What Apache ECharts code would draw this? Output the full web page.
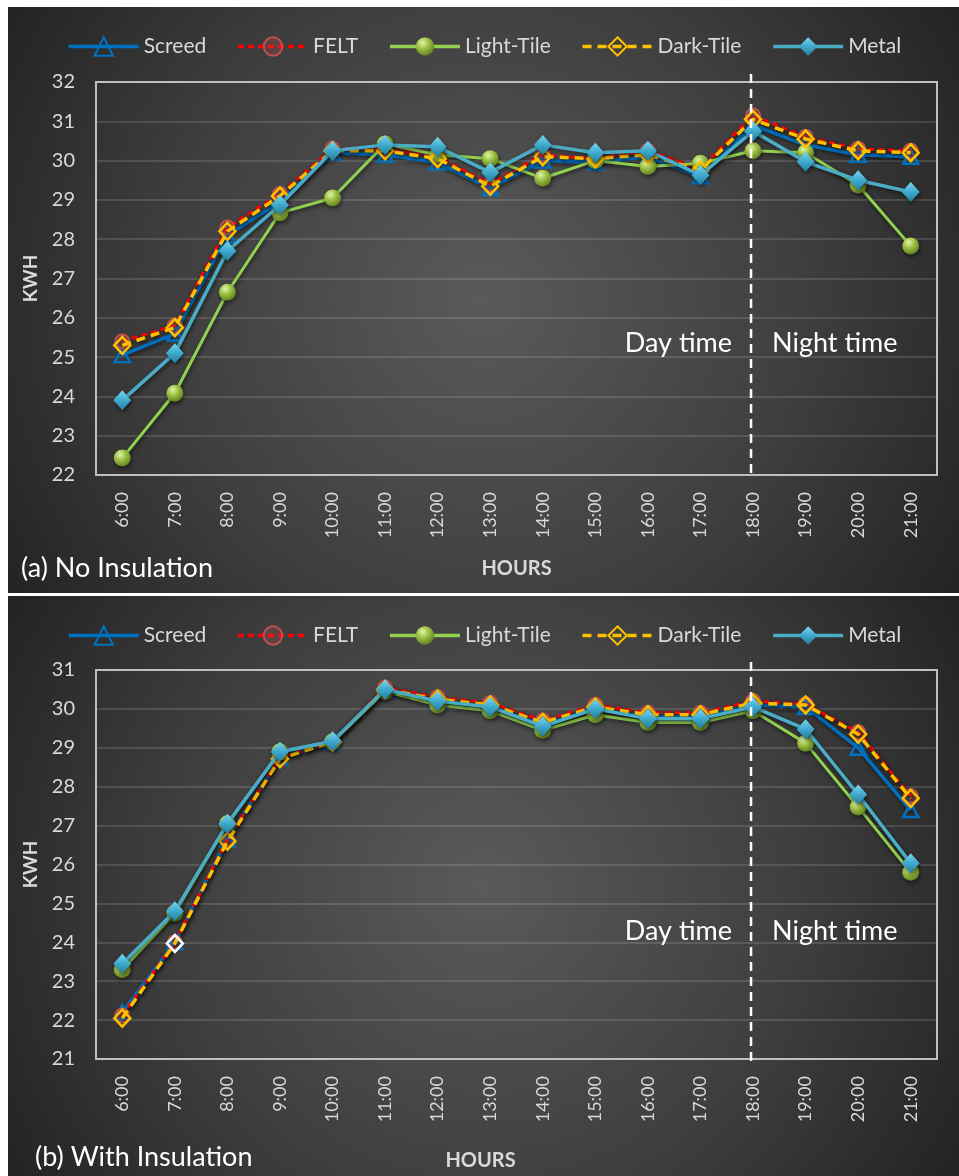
<!DOCTYPE html>
<html><head><meta charset="utf-8">
<script src="https://cdn.jsdelivr.net/npm/echarts@6/dist/echarts.min.js"></script>
<style>html,body{margin:0;padding:0;background:#fff;} #c{width:959px;height:1176px;}</style>
</head><body><div id="c"></div>
<script>
const hours = ['6:00','7:00','8:00','9:00','10:00','11:00','12:00','13:00','14:00','15:00','16:00','17:00','18:00','19:00','20:00','21:00'];
const seriesNames = ['Screed','FELT','Light-Tile','Dark-Tile','Metal'];

// (a) No Insulation
const screedA = [25.05, 25.6, 28.1, 28.95, 30.2, 30.15, 29.95, 29.3, 30.0, 29.95, 30.1, 29.6, 30.9, 30.4, 30.15, 30.1];
const feltA   = [25.4, 25.8, 28.3, 29.15, 30.3, 30.3, 30.1, 29.4, 30.15, 30.05, 30.25, 29.8, 31.15, 30.6, 30.3, 30.25];
const lightA  = [22.43, 24.08, 26.65, 28.67, 29.05, 30.42, 30.15, 30.05, 29.55, 30.0, 29.85, 29.93, 30.25, 30.2, 29.38, 27.83];
const darkA   = [25.3, 25.75, 28.2, 29.1, 30.25, 30.25, 30.05, 29.35, 30.1, 30.05, 30.15, 29.75, 31.05, 30.55, 30.25, 30.2];
const metalA  = [23.9, 25.1, 27.7, 28.87, 30.25, 30.4, 30.35, 29.7, 30.4, 30.2, 30.25, 29.63, 30.75, 29.97, 29.5, 29.2];

// (b) With Insulation
const screedB = [22.2, 24.0, 26.65, 28.75, 29.15, 30.5, 30.2, 30.05, 29.6, 30.0, 29.8, 29.8, 30.1, 30.05, 29.0, 27.4];
const feltB   = [22.12, 24.0, 26.65, 28.75, 29.15, 30.55, 30.3, 30.15, 29.7, 30.1, 29.9, 29.9, 30.2, 30.12, 29.4, 27.76];
const lightB  = [23.3, 24.75, 27.05, 28.9, 29.15, 30.45, 30.1, 29.95, 29.45, 29.85, 29.65, 29.65, 29.95, 29.12, 27.48, 25.8];
const darkB   = [22.05, 23.97, 26.6, 28.72, 29.15, 30.5, 30.25, 30.1, 29.65, 30.05, 29.85, 29.85, 30.15, 30.1, 29.35, 27.7];
const metalB  = [23.45, 24.8, 27.05, 28.9, 29.17, 30.5, 30.2, 30.05, 29.55, 30.0, 29.75, 29.75, 30.05, 29.48, 27.8, 26.03];

const yRangeA = [22, 32];
const yRangeB = [21, 31];
const panelTitles = ['(a) No Insulation', '(b) With Insulation'];

const FONT = 'Lato';
const TXT = '#d9d9d9';
const chart = echarts.init(document.getElementById('c'));

const shadow = {shadowColor:'rgba(0,0,0,0.55)', shadowBlur:4, shadowOffsetY:2, shadowOffsetX:1};

function styles(name){
  switch(name){
    case 'Screed': return {symbol:'triangle', symbolSize:[15,14], color:'#0070C0',
      lineStyle:Object.assign({color:'#0070C0', width:3.5}, shadow),
      itemStyle:{color:'rgba(0,0,0,0)', borderColor:'#0070C0', borderWidth:2.5}};
    case 'FELT': return {symbol:'circle', symbolSize:14, color:'#FF0000',
      lineStyle:Object.assign({color:'#FF0000', width:3, type:[6,4]}, shadow),
      itemStyle:{color:'rgba(192,80,77,0.25)', borderColor:'#C0504D', borderWidth:2}};
    case 'Light-Tile': return {symbol:'circle', symbolSize:17, color:'#92D050',
      lineStyle:Object.assign({color:'#92D050', width:3}, shadow),
      itemStyle:Object.assign({color:new echarts.graphic.RadialGradient(0.38,0.3,0.75,[{offset:0,color:'#e0f4a8'},{offset:0.45,color:'#9cc044'},{offset:1,color:'#5a7a1c'}])}, shadow)};
    case 'Dark-Tile': return {symbol:'diamond', symbolSize:[16,17], color:'#FFC000',
      lineStyle:Object.assign({color:'#FFC000', width:3.5, type:[9,6]}, shadow),
      itemStyle:{color:'rgba(0,0,0,0)', borderColor:'#FFC000', borderWidth:2.5}};
    case 'Metal': return {symbol:'diamond', symbolSize:[18,20], color:'#4BACC6',
      lineStyle:Object.assign({color:'#4BACC6', width:3.5}, shadow),
      itemStyle:Object.assign({color:new echarts.graphic.LinearGradient(0,0,0,1,[{offset:0,color:'#7ad6f0'},{offset:0.5,color:'#3fa9cc'},{offset:1,color:'#217f9f'}])}, shadow)};
  }
}

const dataA = [screedA, feltA, lightA, darkA, metalA];
const dataB = [screedB, feltB, lightB, darkB, metalB];
const series = [];
[dataA, dataB].forEach((set, g) => {
  set.forEach((arr, i) => {
    const nm = seriesNames[i];
    let d = arr.slice();
    if (g === 1 && nm === 'Dark-Tile') {
      d = arr.map((v, k) => k === 1 ? {value: v, itemStyle:{borderColor:'#ffffff'}} : v);
    }
    series.push(Object.assign({type:'line', name:nm, xAxisIndex:g, yAxisIndex:g, data:d,
      animation:false, z: 3 + i}, styles(nm)));
  });
});

const grids = [
  {left:96, top:82, width:841, height:393, show:true, borderColor:'#bfbfbf', borderWidth:2, backgroundColor:'transparent', z:1},
  {left:96, top:670, width:841, height:389, show:true, borderColor:'#bfbfbf', borderWidth:2, backgroundColor:'transparent', z:1}
];

function xAxis(g){
  return {type:'category', gridIndex:g, data:hours, boundaryGap:true,
    axisLine:{show:false}, axisTick:{show:false},
    axisLabel:{rotate:90, margin:17, color:TXT, fontSize:18, fontFamily:FONT},
    name:'HOURS', nameLocation:'middle', nameGap: g===0 ? 84 : 92,
    nameTextStyle:{color:TXT, fontSize:20, fontWeight:'bold', fontFamily:FONT, padding: g===0 ? 0 : [0,72,0,0]}};
}
function yAxis(g, r){
  return {type:'value', gridIndex:g, min:r[0], max:r[1], interval:1,
    axisLine:{show:false}, axisTick:{show:false},
    axisLabel:{color:TXT, fontSize:20, margin:21, fontFamily:FONT},
    splitLine:{show:true, lineStyle:{color:'rgba(255,255,255,0.13)', width:2}},
    name:'KWH', nameLocation:'middle', nameGap:56,
    nameTextStyle:{color:TXT, fontSize:19, fontWeight:'bold', fontFamily:FONT}};
}

const legendBase = {data:seriesNames, left:62, itemWidth:70, itemHeight:23, itemGap:30,
  lineStyle:{width:3.5},
  textStyle:{color:TXT, fontSize:21, fontFamily:FONT}, selectedMode:false};

function bg(y, h){
  return {type:'rect', z:-10, silent:true, shape:{x:8, y:y, width:951, height:h},
    style:{fill:new echarts.graphic.RadialGradient(0.5,0.5,1,[{offset:0,color:'#5a5a5a'},{offset:0.55,color:'#3e3e3e'},{offset:1,color:'#202020'}])}};
}

chart.setOption({
  backgroundColor:'#ffffff',
  animation:false,
  grid: grids,
  xAxis: [xAxis(0), xAxis(1)],
  yAxis: [yAxis(0, yRangeA), yAxis(1, yRangeB)],
  legend: [Object.assign({top:31}, legendBase), Object.assign({top:620}, legendBase)],
  series: series,
  graphic: [bg(7, 586), bg(596, 580)]
});

// Day/night divider at 18:00, positioned through the axis scale
const graphics = [bg(7, 586), bg(596, 580)];
[0,1].forEach(g => {
  const x = chart.convertToPixel({xAxisIndex:g}, '18:00') - 2;
  const top = g===0 ? 82 : 670, bottom = g===0 ? 475 : 1059;
  const midY = g===0 ? 343 : 931;
  graphics.push({type:'line', z:50, silent:true, shape:{x1:x, y1:top-8, x2:x, y2:bottom+4},
    style:{stroke:'#ffffff', lineWidth:2.5, lineDash:[9,6]}});
  graphics.push({type:'text', z:50, silent:true, x:x-19, y:midY,
    style:{text:'Day time', fill:'#ffffff', font:'27px '+FONT, textAlign:'right', textVerticalAlign:'middle'}});
  graphics.push({type:'text', z:50, silent:true, x:x+21, y:midY,
    style:{text:'Night time', fill:'#ffffff', font:'27px '+FONT, textAlign:'left', textVerticalAlign:'middle'}});
});
graphics.push({type:'text', z:50, silent:true, x:21, y:568,
  style:{text:panelTitles[0], fill:'#ffffff', font:'27px '+FONT, textAlign:'left', textVerticalAlign:'middle'}});
graphics.push({type:'text', z:50, silent:true, x:35, y:1157,
  style:{text:panelTitles[1], fill:'#ffffff', font:'27px '+FONT, textAlign:'left', textVerticalAlign:'middle'}});
chart.setOption({graphic: graphics});
</script>
</body></html>
